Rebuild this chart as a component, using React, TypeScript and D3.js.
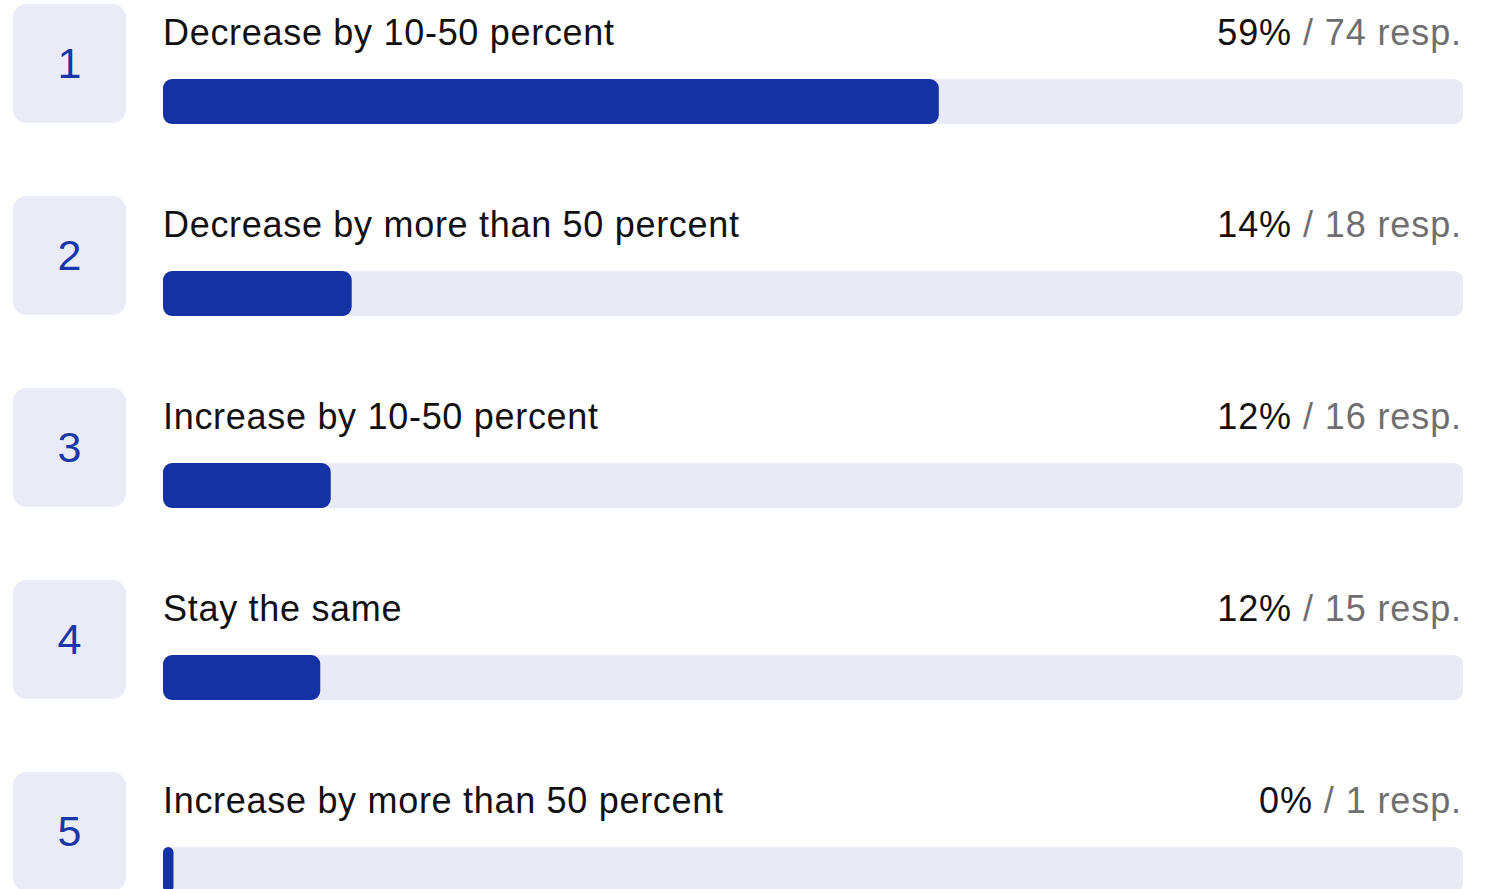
import React from "react";
import * as d3 from "d3";

const categories = [
  "Decrease by 10-50 percent",
  "Decrease by more than 50 percent",
  "Increase by 10-50 percent",
  "Stay the same",
  "Increase by more than 50 percent",
];
const responses = [74, 18, 16, 15, 1];
const percentLabels = ["59%", "14%", "12%", "12%", "0%"];

const W = 1490;
const H = 889;

export default function App() {
  const total = d3.sum(responses);
  const x0 = 163;
  const x1 = 1463;
  const x = d3.scaleLinear().domain([0, total]).range([x0, x1]);
  const y = d3
    .scaleBand<number>()
    .domain(d3.range(categories.length))
    .range([4, 4 + 192 * categories.length])
    .paddingInner(0)
    .paddingOuter(0);
  const font = "'Liberation Sans', Arial, Helvetica, sans-serif";
  return (
    <svg
      width={W}
      height={H}
      style={{ position: "absolute", left: 0, top: 0, display: "block" }}
      fontFamily={font}
    >
      <rect width={W} height={H} fill="#ffffff" />
      {categories.map((c, i) => {
        const top = y(i)!;
        return (
          <g key={c}>
            <rect x={13} y={top} width={113} height={119} rx={14} fill="#e9ebf6" />
            <text
              x={69.5}
              y={top + 59}
              textAnchor="middle"
              dominantBaseline="central"
              fontSize={43}
              fill="#1a36a8"
            >
              {i + 1}
            </text>
            <text x={x0} y={top + 41} fontSize={36} letterSpacing={0.7} fill="#111111">
              {c}
            </text>
            <text
              x={x1 - 1}
              y={top + 41}
              fontSize={36}
              letterSpacing={0.9}
              textAnchor="end"
              fill="#111111"
            >
              {percentLabels[i]}
              <tspan fill="#6f6f6f"> / {responses[i]} resp.</tspan>
            </text>
            <rect x={x0} y={top + 75} width={x1 - x0} height={45} rx={9} fill="#e8eaf6" />
            <rect
              x={x0}
              y={top + 75}
              width={Math.max(x(responses[i]) - x0, 10)}
              height={45}
              rx={Math.min(9, (x(responses[i]) - x0) / 2)}
              fill="#1432a3"
            />
          </g>
        );
      })}
    </svg>
  );
}
